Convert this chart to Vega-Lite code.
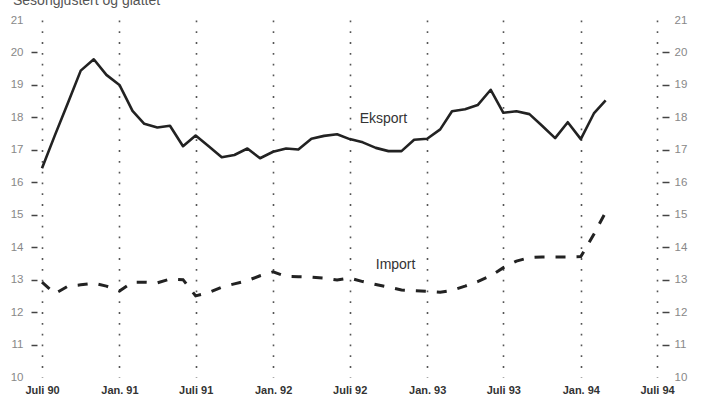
{
  "$schema": "https://vega.github.io/schema/vega-lite/v6.json",
  "width": 615,
  "height": 357,
  "autosize": {"type": "none"},
  "padding": {"left": 42, "top": 20, "right": 47, "bottom": 23},
  "background": "white",
  "title": {
    "text": "Sesongjustert og glattet",
    "anchor": "start",
    "frame": "group",
    "dx": -29,
    "dy": 5,
    "offset": 0,
    "baseline": "alphabetic",
    "font": "Liberation Sans",
    "fontSize": 14,
    "fontWeight": "normal",
    "color": "#555"
  },
  "config": {
    "view": {"stroke": null},
    "axis": {"domain": false, "grid": false}
  },
  "datasets": {
    "series": [
      {"date": "1990-07-01", "serie": "Eksport", "value": 16.43},
      {"date": "1990-08-01", "serie": "Eksport", "value": 17.46},
      {"date": "1990-09-01", "serie": "Eksport", "value": 18.46},
      {"date": "1990-10-01", "serie": "Eksport", "value": 19.44},
      {"date": "1990-11-01", "serie": "Eksport", "value": 19.79},
      {"date": "1990-12-01", "serie": "Eksport", "value": 19.31},
      {"date": "1991-01-01", "serie": "Eksport", "value": 19.0},
      {"date": "1991-02-01", "serie": "Eksport", "value": 18.2},
      {"date": "1991-03-01", "serie": "Eksport", "value": 17.8},
      {"date": "1991-04-01", "serie": "Eksport", "value": 17.69},
      {"date": "1991-05-01", "serie": "Eksport", "value": 17.74},
      {"date": "1991-06-01", "serie": "Eksport", "value": 17.11},
      {"date": "1991-07-01", "serie": "Eksport", "value": 17.44},
      {"date": "1991-08-01", "serie": "Eksport", "value": 17.11},
      {"date": "1991-09-01", "serie": "Eksport", "value": 16.77},
      {"date": "1991-10-01", "serie": "Eksport", "value": 16.84},
      {"date": "1991-11-01", "serie": "Eksport", "value": 17.04},
      {"date": "1991-12-01", "serie": "Eksport", "value": 16.74},
      {"date": "1992-01-01", "serie": "Eksport", "value": 16.94},
      {"date": "1992-02-01", "serie": "Eksport", "value": 17.04},
      {"date": "1992-03-01", "serie": "Eksport", "value": 17.01},
      {"date": "1992-04-01", "serie": "Eksport", "value": 17.34},
      {"date": "1992-05-01", "serie": "Eksport", "value": 17.43},
      {"date": "1992-06-01", "serie": "Eksport", "value": 17.48},
      {"date": "1992-07-01", "serie": "Eksport", "value": 17.33},
      {"date": "1992-08-01", "serie": "Eksport", "value": 17.23},
      {"date": "1992-09-01", "serie": "Eksport", "value": 17.06},
      {"date": "1992-10-01", "serie": "Eksport", "value": 16.96},
      {"date": "1992-11-01", "serie": "Eksport", "value": 16.96},
      {"date": "1992-12-01", "serie": "Eksport", "value": 17.31},
      {"date": "1993-01-01", "serie": "Eksport", "value": 17.34},
      {"date": "1993-02-01", "serie": "Eksport", "value": 17.63},
      {"date": "1993-03-01", "serie": "Eksport", "value": 18.19},
      {"date": "1993-04-01", "serie": "Eksport", "value": 18.25},
      {"date": "1993-05-01", "serie": "Eksport", "value": 18.38},
      {"date": "1993-06-01", "serie": "Eksport", "value": 18.85},
      {"date": "1993-07-01", "serie": "Eksport", "value": 18.14},
      {"date": "1993-08-01", "serie": "Eksport", "value": 18.19},
      {"date": "1993-09-01", "serie": "Eksport", "value": 18.1},
      {"date": "1993-10-01", "serie": "Eksport", "value": 17.74},
      {"date": "1993-11-01", "serie": "Eksport", "value": 17.36},
      {"date": "1993-12-01", "serie": "Eksport", "value": 17.85},
      {"date": "1994-01-01", "serie": "Eksport", "value": 17.33},
      {"date": "1994-02-01", "serie": "Eksport", "value": 18.12},
      {"date": "1994-03-01", "serie": "Eksport", "value": 18.52},
      {"date": "1990-07-01", "serie": "Import", "value": 12.92},
      {"date": "1990-08-01", "serie": "Import", "value": 12.57},
      {"date": "1990-09-01", "serie": "Import", "value": 12.8},
      {"date": "1990-10-01", "serie": "Import", "value": 12.84},
      {"date": "1990-11-01", "serie": "Import", "value": 12.89},
      {"date": "1990-12-01", "serie": "Import", "value": 12.8},
      {"date": "1991-01-01", "serie": "Import", "value": 12.65},
      {"date": "1991-02-01", "serie": "Import", "value": 12.92},
      {"date": "1991-03-01", "serie": "Import", "value": 12.92},
      {"date": "1991-04-01", "serie": "Import", "value": 12.9},
      {"date": "1991-05-01", "serie": "Import", "value": 13.02},
      {"date": "1991-06-01", "serie": "Import", "value": 13.0},
      {"date": "1991-07-01", "serie": "Import", "value": 12.5},
      {"date": "1991-08-01", "serie": "Import", "value": 12.6},
      {"date": "1991-09-01", "serie": "Import", "value": 12.77},
      {"date": "1991-10-01", "serie": "Import", "value": 12.87},
      {"date": "1991-11-01", "serie": "Import", "value": 12.97},
      {"date": "1991-12-01", "serie": "Import", "value": 13.12},
      {"date": "1992-01-01", "serie": "Import", "value": 13.24},
      {"date": "1992-02-01", "serie": "Import", "value": 13.1},
      {"date": "1992-03-01", "serie": "Import", "value": 13.09},
      {"date": "1992-04-01", "serie": "Import", "value": 13.08},
      {"date": "1992-05-01", "serie": "Import", "value": 13.05},
      {"date": "1992-06-01", "serie": "Import", "value": 12.99},
      {"date": "1992-07-01", "serie": "Import", "value": 13.05},
      {"date": "1992-08-01", "serie": "Import", "value": 12.94},
      {"date": "1992-09-01", "serie": "Import", "value": 12.85},
      {"date": "1992-10-01", "serie": "Import", "value": 12.77},
      {"date": "1992-11-01", "serie": "Import", "value": 12.68},
      {"date": "1992-12-01", "serie": "Import", "value": 12.66},
      {"date": "1993-01-01", "serie": "Import", "value": 12.64},
      {"date": "1993-02-01", "serie": "Import", "value": 12.61},
      {"date": "1993-03-01", "serie": "Import", "value": 12.67},
      {"date": "1993-04-01", "serie": "Import", "value": 12.8},
      {"date": "1993-05-01", "serie": "Import", "value": 12.94},
      {"date": "1993-06-01", "serie": "Import", "value": 13.12},
      {"date": "1993-07-01", "serie": "Import", "value": 13.37},
      {"date": "1993-08-01", "serie": "Import", "value": 13.57},
      {"date": "1993-09-01", "serie": "Import", "value": 13.68},
      {"date": "1993-10-01", "serie": "Import", "value": 13.7},
      {"date": "1993-11-01", "serie": "Import", "value": 13.7},
      {"date": "1993-12-01", "serie": "Import", "value": 13.7},
      {"date": "1994-01-01", "serie": "Import", "value": 13.71},
      {"date": "1994-02-01", "serie": "Import", "value": 14.4},
      {"date": "1994-03-01", "serie": "Import", "value": 15.08}
    ],
    "labels": [
      {"date": "1992-09-19", "label": "Eksport", "value": 17.95},
      {"date": "1992-10-18", "label": "Import", "value": 13.45}
    ]
  },
  "layer": [
    {
      "data": {"name": "series"},
      "transform": [{"filter": "datum.serie === 'Eksport'"}],
      "mark": {"type": "line", "color": "#222", "strokeWidth": 2.6, "strokeJoin": "round", "clip": false},
      "encoding": {
        "x": {
          "field": "date",
          "type": "temporal",
          "scale": {"type": "utc", "domain": ["1990-07-01", "1994-07-01"]},
          "axis": {
            "title": null,
            "values": ["1990-07-01", "1991-01-01", "1991-07-01", "1992-01-01", "1992-07-01", "1993-01-01", "1993-07-01", "1994-01-01", "1994-07-01"],
            "labelExpr": "(utcmonth(datum.value) == 6 ? 'Juli ' : 'Jan. ') + substring(toString(utcyear(datum.value)), 2)",
            "ticks": false,
            "labelPadding": 7,
            "labelFont": "Liberation Sans",
            "labelFontWeight": "bold",
            "labelFontSize": 11,
            "labelColor": "#333",
            "labelFlush": false,
            "labelOverlap": false,
            "grid": true,
            "gridColor": "#555",
            "gridDash": [1.8, 9],
            "gridWidth": 1.6
          }
        },
        "y": {
          "field": "value",
          "type": "quantitative",
          "scale": {"domain": [10, 21], "nice": false, "zero": false},
          "axis": {
            "title": null,
            "orient": "left",
            "values": [10, 11, 12, 13, 14, 15, 16, 17, 18, 19, 20, 21],
            "offset": 5,
            "tickSize": 6,
            "tickWidth": 1.5,
            "tickColor": "#444",
            "tickOpacity": {"condition": {"test": "datum.value == 10 || datum.value == 21", "value": 0}, "value": 1},
            "labelPadding": 8,
            "labelFont": "Liberation Sans",
            "labelFontSize": 11.5,
            "labelColor": "#888"
          }
        }
      }
    },
    {
      "data": {"name": "series"},
      "transform": [{"filter": "datum.serie === 'Import'"}],
      "mark": {"type": "line", "color": "#222", "strokeWidth": 3, "strokeDash": [10, 11], "clip": false},
      "encoding": {
        "x": {"field": "date", "type": "temporal"},
        "y": {
          "field": "value",
          "type": "quantitative",
          "axis": {
            "title": null,
            "orient": "right",
            "values": [10, 11, 12, 13, 14, 15, 16, 17, 18, 19, 20, 21],
            "offset": 5,
            "tickSize": 7,
            "tickWidth": 1.5,
            "tickColor": "#444",
            "tickOpacity": {"condition": {"test": "datum.value == 10 || datum.value == 21", "value": 0}, "value": 1},
            "labelPadding": 5,
            "labelFont": "Liberation Sans",
            "labelFontSize": 11.5,
            "labelColor": "#888"
          }
        }
      }
    },
    {
      "data": {"name": "labels"},
      "mark": {"type": "text", "font": "Liberation Sans", "fontSize": 14, "color": "#333", "align": "center", "baseline": "middle"},
      "encoding": {
        "x": {"field": "date", "type": "temporal"},
        "y": {"field": "value", "type": "quantitative", "axis": null},
        "text": {"field": "label"}
      }
    }
  ],
  "resolve": {"axis": {"y": "independent"}}
}
